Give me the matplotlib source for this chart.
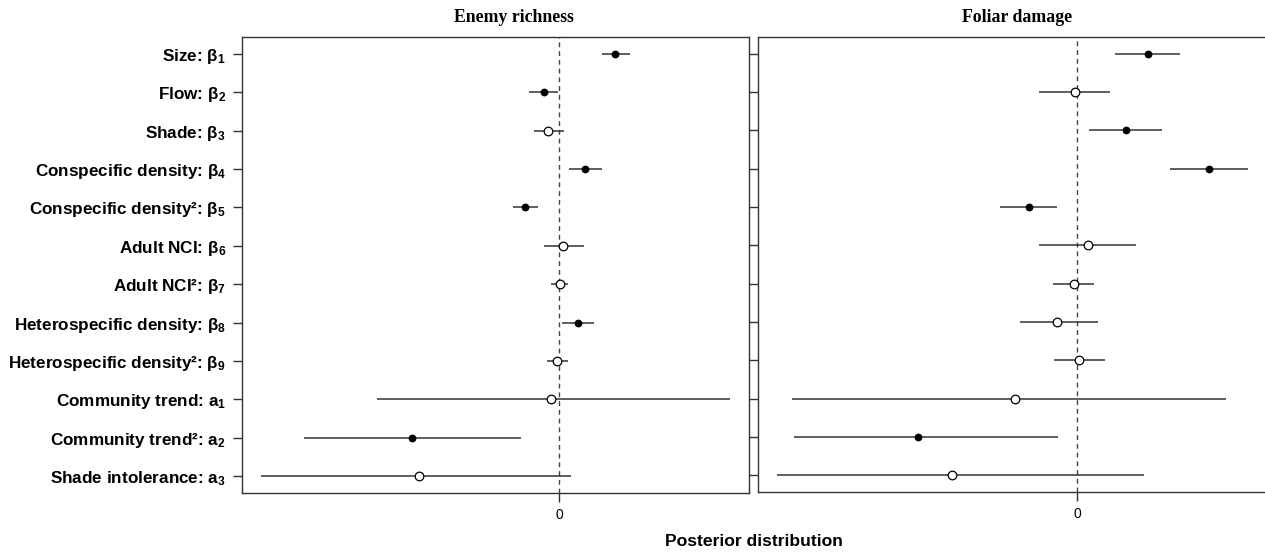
import matplotlib
matplotlib.use("Agg")
import matplotlib.pyplot as plt
import numpy as np

plt.rcParams['mathtext.fontset'] = 'custom'
plt.rcParams['mathtext.bf'] = 'Liberation Sans:bold'
plt.rcParams['mathtext.rm'] = 'Liberation Sans:bold'
plt.rcParams['mathtext.default'] = 'bf'

labels = [
    "Size: β$_{1}$",
    "Flow: β$_{2}$",
    "Shade: β$_{3}$",
    "Conspecific density: β$_{4}$",
    "Conspecific density²: β$_{5}$",
    "Adult NCI: β$_{6}$",
    "Adult NCI²: β$_{7}$",
    "Heterospecific density: β$_{8}$",
    "Heterospecific density²: β$_{9}$",
    "Community trend: a$_{1}$",
    "Community trend²: a$_{2}$",
    "Shade intolerance: a$_{3}$",
]

# Enemy richness
er_mean = [0.56, -0.15, -0.11, 0.26, -0.34, 0.04, 0.01, 0.19, -0.02, -0.08, -1.48, -1.41]
er_lo   = [0.43, -0.30, -0.25, 0.10, -0.46, -0.15, -0.08, 0.03, -0.12, -1.83, -2.56, -2.99]
er_hi   = [0.71, -0.01, 0.05, 0.43, -0.21, 0.25, 0.09, 0.35, 0.09, 1.71, -0.38, 0.12]
er_sig  = [True, True, False, True, True, False, False, True, False, False, True, False]

# Foliar damage
fd_mean = [0.71, -0.02, 0.49, 1.32, -0.48, 0.11, -0.03, -0.20, 0.02, -0.62, -1.59, -1.25]
fd_lo   = [0.38, -0.38, 0.12, 0.93, -0.77, -0.38, -0.24, -0.57, -0.23, -2.85, -2.83, -3.00]
fd_hi   = [1.03, 0.33, 0.85, 1.71, -0.20, 0.59, 0.17, 0.21, 0.28, 1.49, -0.19, 0.67]
fd_sig  = [True, False, True, True, True, False, False, False, False, False, True, False]

titles = ["Enemy richness", "Foliar damage"]

W, H = 1265, 553
fig = plt.figure(figsize=(W / 100, H / 100), dpi=100)

def frac(x0, x1, ytop, ybot):
    return [x0 / W, 1 - ybot / H, (x1 - x0) / W, (ybot - ytop) / H]

ax1 = fig.add_axes(frac(242, 749, 37, 493))
ax2 = fig.add_axes(frac(758, 1270, 37, 492))

lc = '#333333'
for ax, m, lo, hi, sig, show in [(ax1, er_mean, er_lo, er_hi, er_sig, True),
                                  (ax2, fd_mean, fd_lo, fd_hi, fd_sig, False)]:
    n = len(m)
    y = np.arange(1, n + 1)
    ax.axvline(0, color='#444444', lw=1.0, ls=(0, (3.5, 2.8)), zorder=1)
    ax.hlines(y, lo, hi, color=lc, lw=1.1, zorder=2)
    for yi, mi, s in zip(y, m, sig):
        if s:
            ax.plot(mi, yi, 'o', ms=4.6, mfc='black', mec='black', zorder=3)
        else:
            ax.plot(mi, yi, 'o', ms=6.2, mfc='white', mec='black', mew=0.9, zorder=3)
    xmin, xmax = min(lo), max(hi)
    pad = 0.04 * (xmax - xmin)
    if show:
        ax.set_xlim(xmin - pad, xmax + pad)
    else:
        # axes extends slightly past the right edge of the canvas
        ax.set_xlim(xmin - pad, xmax + pad + (xmax - xmin + 2 * pad) * 3 / 509)
    ax.set_ylim(n + 0.44, 0.56)
    ax.set_yticks(y)
    if show:
        ax.set_yticklabels(labels, fontfamily='Liberation Sans', fontweight='bold', fontsize=12.3)
    else:
        ax.set_yticklabels([])
    ax.set_xticks([0])
    ax.set_xticklabels(['0'], fontfamily='Liberation Sans', fontsize=10)
    ax.tick_params(axis='both', length=6.5, width=1.0, color=lc, pad=4)
    ax.tick_params(axis='y', pad=5)
    for sp in ax.spines.values():
        sp.set_color(lc)
        sp.set_linewidth(1.0)

ax2.spines['right'].set_visible(False)

fig.text(514 / W, 1 - 18 / H, titles[0], ha='center', va='center',
         fontfamily='Liberation Serif', fontweight='bold', fontsize=12.8)
fig.text(1017 / W, 1 - 18 / H, titles[1], ha='center', va='center',
         fontfamily='Liberation Serif', fontweight='bold', fontsize=12.8)
fig.text(754 / W, 1 - 542 / H, "Posterior distribution", ha='center', va='center',
         fontfamily='Liberation Sans', fontweight='bold', fontsize=12.6)

fig.savefig("out.png", dpi=100)
